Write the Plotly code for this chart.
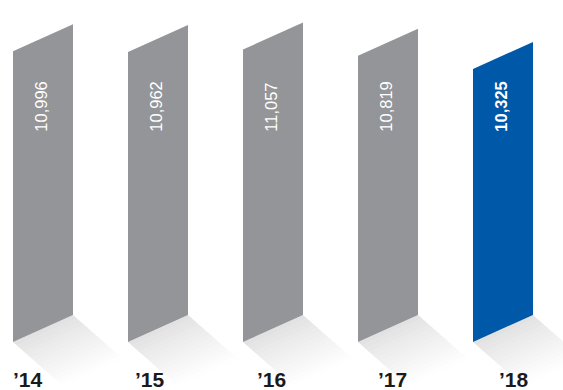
import plotly.graph_objects as go

# ---- data ----
years = ["’14", "’15", "’16", "’17", "’18"]
values = [10996, 10962, 11057, 10819, 10325]
value_labels = ["10,996", "10,962", "11,057", "10,819", "10,325"]
highlight = [False, False, False, False, True]

# ---- styling / geometry (pixels) ----
W, H = 563, 390
GRAY = "#949598"
BLUE = "#0058a8"
FONT = "Liberation Sans"
px_per_x = 115.0          # pixels per category step
first_center_px = 43.0
half_w_px = 30.0
base_px_from_bottom = 48.0
k = 0.02645               # pixels per value unit
slant_px = 27.0
shadow_vec_px = (50.0, 44.0)
N_STRIPS = 14

x0 = -first_center_px / px_per_x
x1 = x0 + W / px_per_x
y0 = -base_px_from_bottom / k
y1 = (H - base_px_from_bottom) / k

hw = half_w_px / px_per_x
S = slant_px / k
Vx = shadow_vec_px[0] / px_per_x
Vy = shadow_vec_px[1] / k


def mix(c0, c1, t):
    a = [int(c0[i:i + 2], 16) for i in (1, 3, 5)]
    b = [int(c1[i:i + 2], 16) for i in (1, 3, 5)]
    return "rgb(%d,%d,%d)" % tuple(round(a[j] + (b[j] - a[j]) * t) for j in range(3))


fig = go.Figure()

# shadows
for i, v in enumerate(values):
    L, R = i - hw, i + hw
    for j in range(N_STRIPS):
        t0 = j / N_STRIPS
        t1 = min(1.0, (j + 1.15) / N_STRIPS)
        xs = [L + t0 * Vx, R + t0 * Vx, R + t1 * Vx, L + t1 * Vx, L + t0 * Vx]
        ys = [-t0 * Vy, S - t0 * Vy, S - t1 * Vy, -t1 * Vy, -t0 * Vy]
        tt = (j + 0.5) / N_STRIPS
        fig.add_trace(go.Scatter(
            x=xs, y=ys, mode="lines", fill="toself",
            fillcolor=mix("#e1e1e2", "#ffffff", tt ** 0.9),
            line=dict(width=0), hoverinfo="skip", showlegend=False))

# bars (parallelograms)
for i, v in enumerate(values):
    L, R = i - hw, i + hw
    xs = [L, R, R, L, L]
    ys = [0, S, v + S, v, 0]
    fig.add_trace(go.Scatter(
        x=xs, y=ys, mode="lines", fill="toself",
        fillcolor=BLUE if highlight[i] else GRAY,
        line=dict(width=0), hoverinfo="skip", showlegend=False))

# value labels (rotated, inside bars)
for i, lab in enumerate(value_labels):
    fig.add_annotation(
        x=i - 0.02, xref="x", y=1 - 107 / H, yref="paper",
        text="<b>%s</b>" % lab if highlight[i] else lab,
        textangle=-90, showarrow=False, xanchor="center", yanchor="middle",
        font=dict(family=FONT, size=16.5, color="white"))

# year labels
for i, yl in enumerate(years):
    fig.add_annotation(
        x=(28 + 121.5 * i) / W, xref="paper", y=0, yref="paper",
        text="<b>%s</b>" % yl, showarrow=False, xanchor="center", yanchor="bottom",
        borderpad=0, yshift=-2,
        font=dict(family=FONT, size=21, color="#1a1a1a"))

fig.update_layout(
    width=W, height=H, margin=dict(l=0, r=0, t=0, b=0),
    paper_bgcolor="white", plot_bgcolor="white",
    xaxis=dict(range=[x0, x1], visible=False, fixedrange=True),
    yaxis=dict(range=[y0, y1], visible=False, fixedrange=True),
    showlegend=False,
)

fig.write_html("out.html")
